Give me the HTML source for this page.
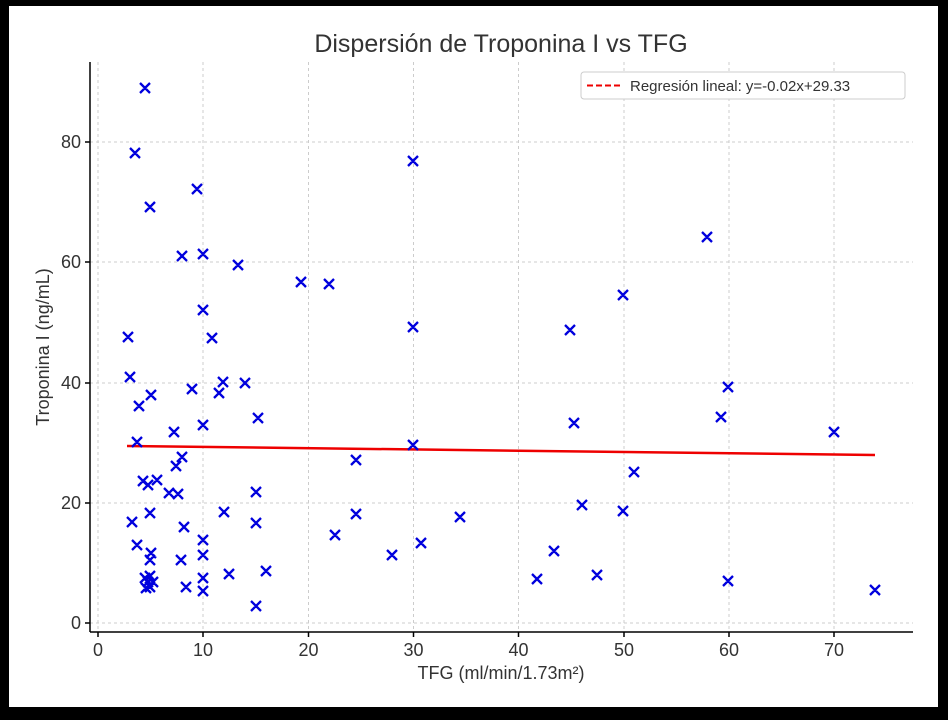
<!DOCTYPE html><html><head><meta charset="utf-8"><style>body{margin:0;background:#000}svg{display:block}text{font-family:"Liberation Sans","DejaVu Sans",sans-serif;fill:#333}</style></head><body>
<svg width="948" height="720" xmlns="http://www.w3.org/2000/svg">
<rect x="0" y="0" width="948" height="720" fill="#000"/>
<rect x="9" y="6" width="929" height="701" fill="#fff"/>
<g stroke="#ccc" stroke-dasharray="3,3" stroke-width="1">
<line x1="98" y1="62" x2="98" y2="632"/><line x1="203" y1="62" x2="203" y2="632"/><line x1="308.5" y1="62" x2="308.5" y2="632"/><line x1="413.5" y1="62" x2="413.5" y2="632"/><line x1="518.5" y1="62" x2="518.5" y2="632"/><line x1="624" y1="62" x2="624" y2="632"/><line x1="729" y1="62" x2="729" y2="632"/><line x1="834" y1="62" x2="834" y2="632"/>
<line x1="90" y1="623" x2="913" y2="623"/><line x1="90" y1="503" x2="913" y2="503"/><line x1="90" y1="383" x2="913" y2="383"/><line x1="90" y1="262" x2="913" y2="262"/><line x1="90" y1="142" x2="913" y2="142"/>
</g>
<g stroke="#000" stroke-width="1.5"><line x1="90" y1="62" x2="90" y2="632"/><line x1="90" y1="632" x2="913" y2="632"/>
<line x1="85" y1="623" x2="90" y2="623"/><line x1="85" y1="503" x2="90" y2="503"/><line x1="85" y1="383" x2="90" y2="383"/><line x1="85" y1="262" x2="90" y2="262"/><line x1="85" y1="142" x2="90" y2="142"/>
<line x1="98" y1="632" x2="98" y2="637"/><line x1="203" y1="632" x2="203" y2="637"/><line x1="308.5" y1="632" x2="308.5" y2="637"/><line x1="413.5" y1="632" x2="413.5" y2="637"/><line x1="518.5" y1="632" x2="518.5" y2="637"/><line x1="624" y1="632" x2="624" y2="637"/><line x1="729" y1="632" x2="729" y2="637"/><line x1="834" y1="632" x2="834" y2="637"/></g>
<g font-size="18" text-anchor="end"><text x="81" y="629">0</text><text x="81" y="509">20</text><text x="81" y="389">40</text><text x="81" y="268">60</text><text x="81" y="148">80</text></g>
<g font-size="18" text-anchor="middle"><text x="98" y="656">0</text><text x="203" y="656">10</text><text x="308.5" y="656">20</text><text x="413.5" y="656">30</text><text x="518.5" y="656">40</text><text x="624" y="656">50</text><text x="729" y="656">60</text><text x="834" y="656">70</text></g>
<text x="501" y="52" font-size="25" text-anchor="middle">Dispersión de Troponina I vs TFG</text>
<text x="501" y="679" font-size="18" text-anchor="middle">TFG (ml/min/1.73m²)</text>
<text transform="translate(49,347) rotate(-90)" font-size="18" text-anchor="middle">Troponina I (ng/mL)</text>
<line x1="127" y1="446" x2="875" y2="455" stroke="#e00" stroke-width="2.5"/>
<path stroke="#00d" stroke-width="2.3" fill="none" d="M140 83l10 10m-10 0l10-10M130 148l10 10m-10 0l10-10M145 202l10 10m-10 0l10-10M192 184l10 10m-10 0l10-10M177 251l10 10m-10 0l10-10M198 249l10 10m-10 0l10-10M233 260l10 10m-10 0l10-10M198 305l10 10m-10 0l10-10M207 333l10 10m-10 0l10-10M123 332l10 10m-10 0l10-10M125 372l10 10m-10 0l10-10M240 378l10 10m-10 0l10-10M187 384l10 10m-10 0l10-10M218 377l10 10m-10 0l10-10M146 390l10 10m-10 0l10-10M214 388l10 10m-10 0l10-10M134 401l10 10m-10 0l10-10M253 413l10 10m-10 0l10-10M198 420l10 10m-10 0l10-10M169 427l10 10m-10 0l10-10M132 437l10 10m-10 0l10-10M177 452l10 10m-10 0l10-10M171 461l10 10m-10 0l10-10M138 476l10 10m-10 0l10-10M143 480l10 10m-10 0l10-10M164 488l10 10m-10 0l10-10M173 489l10 10m-10 0l10-10M152 475l10 10m-10 0l10-10M251 487l10 10m-10 0l10-10M127 517l10 10m-10 0l10-10M145 508l10 10m-10 0l10-10M179 522l10 10m-10 0l10-10M219 507l10 10m-10 0l10-10M251 518l10 10m-10 0l10-10M132 540l10 10m-10 0l10-10M146 548l10 10m-10 0l10-10M198 535l10 10m-10 0l10-10M176 555l10 10m-10 0l10-10M145 555l10 10m-10 0l10-10M198 550l10 10m-10 0l10-10M261 566l10 10m-10 0l10-10M224 569l10 10m-10 0l10-10M140 573l10 10m-10 0l10-10M145 571l10 10m-10 0l10-10M143 577l10 10m-10 0l10-10M148 577l10 10m-10 0l10-10M141 583l10 10m-10 0l10-10M145 582l10 10m-10 0l10-10M181 582l10 10m-10 0l10-10M198 573l10 10m-10 0l10-10M198 586l10 10m-10 0l10-10M251 601l10 10m-10 0l10-10M296 277l10 10m-10 0l10-10M324 279l10 10m-10 0l10-10M408 156l10 10m-10 0l10-10M408 322l10 10m-10 0l10-10M408 440l10 10m-10 0l10-10M351 455l10 10m-10 0l10-10M351 509l10 10m-10 0l10-10M330 530l10 10m-10 0l10-10M387 550l10 10m-10 0l10-10M416 538l10 10m-10 0l10-10M455 512l10 10m-10 0l10-10M532 574l10 10m-10 0l10-10M549 546l10 10m-10 0l10-10M592 570l10 10m-10 0l10-10M577 500l10 10m-10 0l10-10M565 325l10 10m-10 0l10-10M569 418l10 10m-10 0l10-10M618 290l10 10m-10 0l10-10M618 506l10 10m-10 0l10-10M629 467l10 10m-10 0l10-10M702 232l10 10m-10 0l10-10M716 412l10 10m-10 0l10-10M723 382l10 10m-10 0l10-10M723 576l10 10m-10 0l10-10M829 427l10 10m-10 0l10-10M870 585l10 10m-10 0l10-10"/>
<rect x="581" y="72" width="324" height="27" fill="#fff" stroke="#ccc" rx="3"/>
<line x1="587" y1="85.5" x2="620" y2="85.5" stroke="#e00" stroke-width="2" stroke-dasharray="6,3"/>
<text x="630" y="91" font-size="15">Regresión lineal: y=-0.02x+29.33</text>
</svg></body></html>
